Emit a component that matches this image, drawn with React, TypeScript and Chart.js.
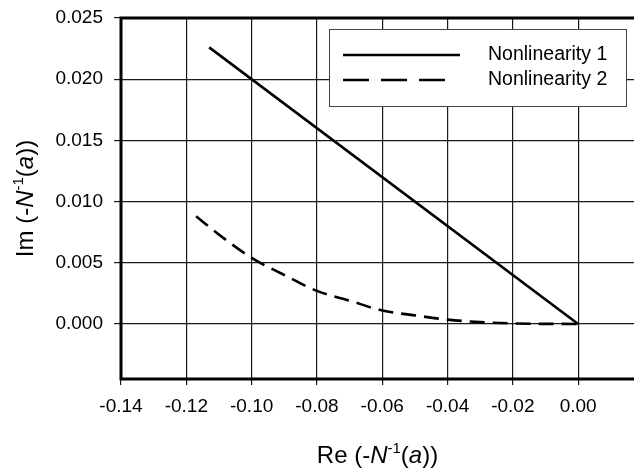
import React, { useEffect, useRef } from "react";
import { Chart, registerables } from "chart.js";

Chart.register(...registerables);

const seriesNames = ["Nonlinearity 1", "Nonlinearity 2"];
const series1X = [-0.113, 0.0];
const series1Y = [0.0226, 0.0];
const series2X = [-0.117, -0.11, -0.1, -0.09, -0.08, -0.07, -0.06, -0.05, -0.04, -0.03, -0.02, -0.01, 0.0];
const series2Y = [0.0088, 0.0073, 0.0054, 0.0040, 0.0027, 0.0019, 0.0011, 0.0007, 0.00035, 0.00015, 0.00004, 0.000005, 0.0];
const xTicks = [-0.14, -0.12, -0.1, -0.08, -0.06, -0.04, -0.02, 0.0];
const yTicks = [0.0, 0.005, 0.01, 0.015, 0.02, 0.025];
const xTitle = [
  { t: "Re (-" },
  { t: "N", i: true },
  { t: "-1", s: true },
  { t: "(" },
  { t: "a", i: true },
  { t: "))" },
];
const yTitle = [
  { t: "Im (-" },
  { t: "N", i: true },
  { t: "-1", s: true },
  { t: "(" },
  { t: "a", i: true },
  { t: "))" },
];

const FONT = "'Liberation Sans', Arial, sans-serif";

type Seg = { t: string; i?: boolean; s?: boolean };

function segFont(seg: Seg, size: number) {
  const sz = seg.s ? Math.round(size * 0.62) : size;
  return `${seg.i ? "italic " : ""}${sz}px ${FONT}`;
}

function drawRich(ctx: CanvasRenderingContext2D, segs: Seg[], size: number) {
  let total = 0;
  const widths = segs.map((s) => {
    ctx.font = segFont(s, size);
    const w = ctx.measureText(s.t).width;
    total += w;
    return w;
  });
  let x = -total / 2;
  ctx.textBaseline = "alphabetic";
  ctx.textAlign = "left";
  segs.forEach((s, k) => {
    ctx.font = segFont(s, size);
    ctx.fillText(s.t, x, s.s ? -size * 0.42 : 0);
    x += widths[k];
  });
}

const decoPlugin = {
  id: "deco",
  afterDraw(chart: any) {
    const ctx: CanvasRenderingContext2D = chart.ctx;
    const a = chart.chartArea;
    ctx.save();
    // thick frame (top, left, bottom)
    ctx.strokeStyle = "#000";
    ctx.lineWidth = 3;
    ctx.beginPath();
    ctx.moveTo(chart.width + 5, a.top);
    ctx.lineTo(a.left, a.top);
    ctx.lineTo(a.left, a.bottom);
    ctx.lineTo(chart.width + 5, a.bottom);
    ctx.stroke();

    // legend
    const bw = 297, bh = 77;
    const bx = a.right - 8 - bw;
    const by = a.top + 11;
    ctx.fillStyle = "#fff";
    ctx.fillRect(bx, by, bw, bh);
    ctx.strokeStyle = "#444";
    ctx.lineWidth = 1;
    ctx.strokeRect(bx + 0.5, by + 0.5, bw, bh);
    ctx.strokeStyle = "#000";
    ctx.lineWidth = 2.6;
    ctx.beginPath();
    ctx.setLineDash([]);
    ctx.moveTo(bx + 14, by + 26);
    ctx.lineTo(bx + 131, by + 26);
    ctx.stroke();
    ctx.beginPath();
    ctx.setLineDash([26, 12]);
    ctx.moveTo(bx + 14, by + 51);
    ctx.lineTo(bx + 120, by + 51);
    ctx.stroke();
    ctx.setLineDash([]);
    ctx.fillStyle = "#000";
    ctx.font = `19.5px ${FONT}`;
    ctx.textBaseline = "middle";
    ctx.textAlign = "left";
    ctx.fillText(seriesNames[0], bx + 159, by + 26);
    ctx.fillText(seriesNames[1], bx + 159, by + 51);

    // axis titles
    ctx.fillStyle = "#000";
    ctx.save();
    ctx.translate((a.left + a.right) / 2, 463);
    drawRich(ctx, xTitle, 24);
    ctx.restore();
    ctx.save();
    ctx.translate(33, (a.top + a.bottom) / 2);
    ctx.rotate(-Math.PI / 2);
    drawRich(ctx, yTitle, 24);
    ctx.restore();
    ctx.restore();
  },
};

export default function App() {
  const ref = useRef<HTMLCanvasElement>(null);
  useEffect(() => {
    if (!ref.current) return;
    const near = (v: number, list: number[]) => list.some((t) => Math.abs(t - v) < 1e-9);
    const chart = new Chart(ref.current, {
      type: "scatter",
      data: {
        datasets: [
          {
            label: seriesNames[0],
            data: series1X.map((x, k) => ({ x, y: series1Y[k] })),
            showLine: true,
            borderColor: "#000",
            borderWidth: 2.6,
            pointRadius: 0,
            tension: 0,
          },
          {
            label: seriesNames[1],
            data: series2X.map((x, k) => ({ x, y: series2Y[k] })),
            showLine: true,
            borderColor: "#000",
            borderWidth: 2.6,
            borderDash: [15, 8],
            pointRadius: 0,
            cubicInterpolationMode: "monotone",
          },
        ],
      },
      options: {
        responsive: false,
        animation: false,
        layout: { padding: { top: 18, right: 0, left: 0, bottom: 0 } },
        plugins: { legend: { display: false }, tooltip: { enabled: false } },
        scales: {
          x: {
            type: "linear",
            min: -0.14,
            max: 0.0171,
            afterBuildTicks: (axis: any) => {
              axis.ticks = xTicks.map((v) => ({ value: v }));
            },
            afterFit: (axis: any) => {
              axis.height = 92;
              axis.paddingLeft = 0;
              axis.paddingRight = 0;
            },
            border: { display: false },
            grid: { color: "#1a1a1a", lineWidth: 1.2, tickLength: 6, drawTicks: true },
            ticks: {
              color: "#000",
              font: { family: FONT, size: 19 },
              padding: 10,
              maxRotation: 0,
              callback: (v: any) => (near(Number(v), xTicks) ? Number(v).toFixed(2) : ""),
            },
          },
          y: {
            type: "linear",
            min: -0.0045,
            max: 0.025,
            afterBuildTicks: (axis: any) => {
              axis.ticks = yTicks.map((v) => ({ value: v }));
            },
            afterFit: (axis: any) => {
              axis.width = 121;
              axis.paddingTop = 0;
              axis.paddingBottom = 0;
            },
            border: { display: false },
            grid: { color: "#1a1a1a", lineWidth: 1.2, tickLength: 7 },
            ticks: {
              color: "#000",
              font: { family: FONT, size: 19 },
              padding: 11,
              callback: (v: any) => (near(Number(v), yTicks) ? Number(v).toFixed(3) : ""),
            },
          },
        },
      },
      plugins: [decoPlugin],
    } as any);
    return () => chart.destroy();
  }, []);
  return (
    <div style={{ position: "absolute", left: 0, top: 0, width: 634, height: 471, background: "#fff" }}>
      <canvas ref={ref} width={634} height={471} style={{ display: "block" }} />
    </div>
  );
}
